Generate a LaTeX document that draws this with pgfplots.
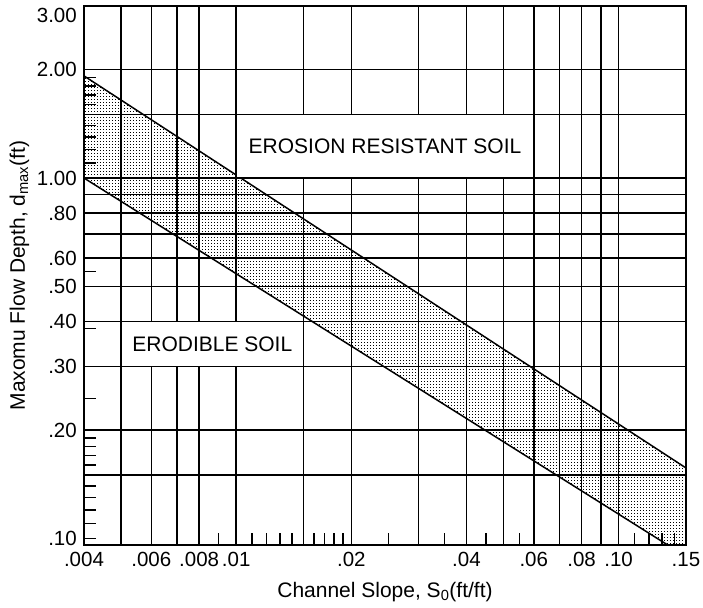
\documentclass[border=0pt]{standalone}
\usepackage{fontspec}
\setmainfont{Liberation Sans}
\usepackage{pgfplots}
\pgfplotsset{compat=1.18}
\usetikzlibrary{patterns}
\pgfdeclarepatternformonly{bigdots}{\pgfqpoint{-0.1pt}{-0.1pt}}{\pgfqpoint{3.1pt}{3.1pt}}{\pgfqpoint{3pt}{3pt}}{%
  \pgfpathrectangle{\pgfqpoint{0.8pt}{0.8pt}}{\pgfqpoint{1.4pt}{1.4pt}}\pgfusepath{fill}}
\begin{document}
\fontsize{21}{25}\selectfont
\begin{tikzpicture}
\begin{loglogaxis}[
  scale only axis,
  width=602pt, height=539pt,
  xmin=0.004, xmax=0.15,
  ymin=0.096, ymax=3.0,
  axis line style={black, line width=1.9pt},
  xtick={0.004,0.005,0.006,0.007,0.008,0.01,0.015,0.02,0.03,0.04,0.05,0.06,0.07,0.08,0.09,0.1,0.15},
  xticklabels={.004,,.006,,.008,.01,,.02,,.04,,.06,,.08,,.10,.15},
  minor xtick={0.009,0.011,0.012,0.013,0.014,0.016,0.017,0.018,0.019,0.025,0.035,0.045,0.055,0.11,0.12,0.13,0.14},
  ytick={0.15,0.2,0.3,0.4,0.5,0.6,0.7,0.8,0.9,1,1.5,2,3},
  yticklabels={,.20,.30,.40,.50,.60,,.80,,1.00,,2.00,\raisebox{-9pt}[\height][\depth]{3.00}},
  minor ytick={0.1,0.11,0.12,0.13,0.14,0.16,0.17,0.18,0.19,0.245,0.383,0.55,1.1,1.2,1.3,1.4,1.6,1.7,1.8,1.9},
  extra y ticks={0.1}, extra y tick labels={.10}, extra y tick style={grid=none},
  major tick length=0pt, minor tick length=12pt,
  tick style={black, line width=1.5pt},
  xtick pos=bottom, ytick pos=left,
  xmajorgrids=true, ymajorgrids=true,
  xminorgrids=false, yminorgrids=false,
  major grid style={black, line width=1.5pt},
  tick label style={font=\fontsize{20.5}{24}\selectfont},
  /pgf/number format/assume math mode=true,
  xlabel={Channel Slope, S\textsubscript{0}(ft/ft)},
  ylabel={Maxomu Flow Depth, d\textsubscript{max}(ft)},
  every axis x label/.style={at={(axis description cs:0.5,-0.0965)}, anchor=base},
  every axis y label/.style={at={(axis description cs:-0.098,0.5)}, rotate=90, anchor=base},
  label style={font=\fontsize{21}{25}\selectfont},
]
\addplot[draw=none, pattern=bigdots] coordinates {(0.004,1.92) (0.15,0.157) (0.15,0.0892) (0.004,1.0)} -- cycle;
\addplot[black, line width=1.5pt] coordinates {(0.004,1.92) (0.15,0.157)};
\addplot[black, line width=1.5pt] coordinates {(0.004,1.0) (0.15,0.0892)};
\filldraw[fill=white, draw=black, line width=1.5pt] (axis cs:0.01,1) rectangle (axis cs:0.06,1.5);
\node[font=\fontsize{21}{25}\selectfont] at (axis cs:0.0245,1.2247) {EROSION RESISTANT SOIL};
\filldraw[fill=white, draw=black, line width=1.5pt] (axis cs:0.005,0.3) rectangle (axis cs:0.015,0.4);
\node[font=\fontsize{21}{25}\selectfont] at (axis cs:0.00866,0.3464) {ERODIBLE SOIL};
\end{loglogaxis}
\pgfresetboundingbox
\path (current axis.south west) ++(-84pt,-63pt) rectangle ([shift={(17pt,6pt)}]current axis.north east);
\end{tikzpicture}
\end{document}
